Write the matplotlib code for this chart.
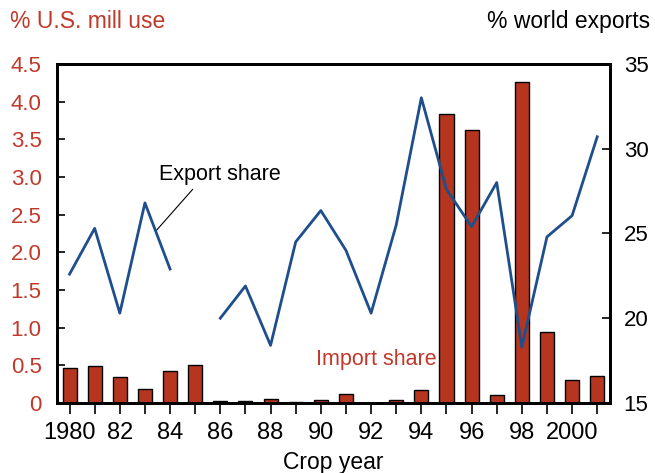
import matplotlib.pyplot as plt
import numpy as np

plt.rcParams['font.family'] = ['Liberation Sans', 'DejaVu Sans']

years = np.arange(1980, 2002)
import_share = [0.47, 0.49, 0.35, 0.19, 0.43, 0.51, 0.03, 0.02, 0.05, 0.01, 0.04,
                0.12, 0.005, 0.04, 0.17, 3.84, 3.62, 0.11, 4.26, 0.94, 0.31, 0.36]
# 1985 missing in the export series
export_share = [22.6, 25.3, 20.3, 26.8, 22.9, np.nan, 20.0, 21.9, 18.4, 24.5, 26.35,
                24.0, 20.3, 25.5, 33.0, 27.6, 25.4, 28.0, 18.3, 24.8, 26.05, 30.7]
xtick_years = [1980, 1982, 1984, 1986, 1988, 1990, 1992, 1994, 1996, 1998, 2000]
xtick_labels = ['1980', '82', '84', '86', '88', '90', '92', '94', '96', '98', '2000']

red = '#b5351f'
red_text = '#c0392b'
blue = '#1f4e8c'

fig = plt.figure(figsize=(6.55, 4.73), dpi=100)
ax = fig.add_axes([0.087, 0.148, 0.844, 0.717])
ax2 = ax.twinx()

ax.bar(years, import_share, width=0.56, color=red, edgecolor='black', linewidth=1.0, zorder=2)
ax2.plot(years, export_share, color=blue, linewidth=2.0, zorder=3)

ax.set_xlim(1979.5, 2001.5)
ax.set_ylim(0, 4.5)
ax2.set_ylim(15, 35)

ax.set_yticks(np.arange(0, 4.51, 0.5))
ax.set_yticklabels(['0'] + [f'{v:.1f}' for v in np.arange(0.5, 4.51, 0.5)])
ax2.set_yticks([15, 20, 25, 30, 35])

ax.set_xticks(years, minor=True)
ax.set_xticks(xtick_years)
ax.set_xticklabels(xtick_labels)

for a in (ax, ax2):
    for s in a.spines.values():
        s.set_linewidth(2.0)
        s.set_color('black')

ax.tick_params(axis='y', direction='in', length=6, width=1.2, labelsize=16,
               labelcolor=red_text, pad=11)
ax2.tick_params(axis='y', direction='in', length=6, width=1.2, labelsize=16,
                labelcolor='black', pad=10)
ax.tick_params(axis='x', which='both', direction='out', length=8, width=1.2,
               labelsize=17, pad=6)

ax.set_xlabel('Crop year', fontsize=16.5, labelpad=5)

fig.text(0.015, 0.955, '% U.S. mill use', color=red_text, fontsize=16.5, va='center', ha='left')
fig.text(0.992, 0.955, '% world exports', color='black', fontsize=16.5, va='center', ha='right')

# leader line and label for the export line
ax2.annotate('', xy=(1983.47, 25.2), xytext=(1984.9, 27.6),
             arrowprops=dict(arrowstyle='-', color='black', lw=0.8, shrinkA=0, shrinkB=0))
ax2.text(1986.0, 28.45, 'Export share', fontsize=15.5, ha='center', va='center')
ax.text(1989.8, 0.58, 'Import share', color=red_text, fontsize=15.5, ha='left', va='center')

fig.savefig('out.png', dpi=100)
